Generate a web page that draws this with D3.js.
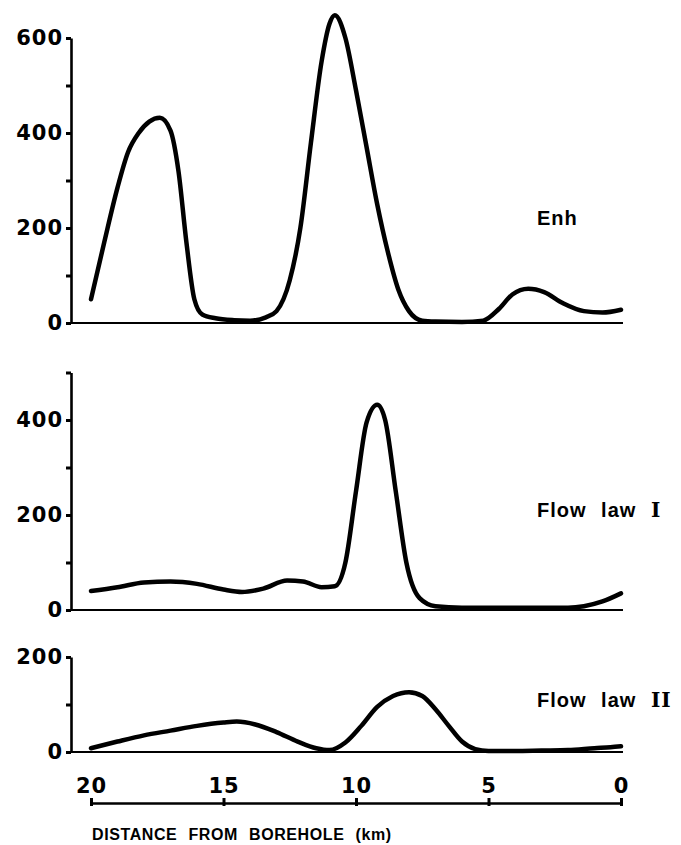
<!DOCTYPE html>
<html>
<head>
<meta charset="utf-8">
<script src="https://cdn.jsdelivr.net/npm/d3@7/dist/d3.min.js"></script>
<style>
  html, body { margin: 0; padding: 0; background: #fff; }
  svg { display: block; }
  .tick text { font-family: "DejaVu Sans", sans-serif; font-weight: bold; font-size: 21px; letter-spacing: 1px; fill: #000; }
</style>
</head>
<body>
<svg id="chart" width="681" height="845"></svg>
<script>
// ---- Data (distance from borehole in km, value) ----
const enhKm    = [20, 19.5, 19.0, 18.6, 18.2, 17.8, 17.4, 17.0, 16.7, 16.4, 16.1, 15.8, 15.3, 14.6, 14.0, 13.4, 13.0, 12.5, 12.1, 11.7, 11.3, 11.0, 10.8, 10.4, 10.0, 9.6, 9.2, 8.8, 8.4, 8.0, 7.5, 7.0, 6.0, 5.2, 4.6, 4.1, 3.5, 2.9, 2.2, 1.4, 0.7, 0];
const enhVal   = [50, 170, 285, 360, 400, 424, 432, 405, 320, 170, 50, 18, 10, 6, 5, 12, 25, 90, 200, 380, 550, 630, 648, 600, 490, 370, 250, 150, 70, 25, 5, 3, 2, 5, 30, 60, 72, 65, 42, 25, 22, 28];

const fl1Km    = [20, 19, 18, 17, 16, 15, 14.3, 13.5, 12.6, 12, 11.3, 10.8, 10.4, 10.0, 9.6, 9.2, 8.9, 8.5, 8.1, 7.6, 7.0, 6.0, 4.0, 2.0, 1.4, 0.7, 0];
const fl1Val   = [40, 48, 58, 60, 55, 43, 38, 45, 62, 60, 48, 50, 100, 250, 395, 432, 400, 250, 100, 25, 8, 5, 5, 5, 8, 18, 35];

const fl2Km    = [20, 19, 18, 17, 16, 15, 14.5, 13.8, 13.0, 12.2, 11.5, 11.0, 10.4, 9.8, 9.2, 8.6, 8.0, 7.5, 7.0, 6.5, 6.0, 5.5, 5.0, 4.0, 3.0, 2.0, 1.0, 0.4, 0];
const fl2Val   = [8, 22, 35, 45, 55, 62, 64, 58, 42, 22, 8, 4, 20, 55, 95, 118, 126, 118, 90, 55, 22, 6, 2, 2, 3, 4, 8, 10, 12];

const panelLabels = ["Enh", "Flow law ", "Flow law "];
const panelNumerals = ["", "I", "II"];
const yTicks1 = [0, 100, 200, 300, 400, 500, 600];
const yTicks2 = [0, 100, 200, 300, 400, 500];
const yTicks3 = [0, 100, 200];
const xTicks  = [20, 15, 10, 5, 0];
const xTitle  = "DISTANCE FROM BOREHOLE (km)";

// ---- Layout ----
const svg = d3.select("#chart");
const x = d3.scaleLinear().domain([20, 0]).range([91, 621]);
const axisX = 71;
const pxPerUnit = 0.475;

const panels = [
  { km: enhKm, val: enhVal, ticks: yTicks1, max: 600, base: 323, label: 0, ly: 225 },
  { km: fl1Km, val: fl1Val, ticks: yTicks2, max: 500, base: 610, label: 1, ly: 517 },
  { km: fl2Km, val: fl2Val, ticks: yTicks3, max: 200, base: 752, label: 2, ly: 707 }
];

panels.forEach(p => {
  const y = d3.scaleLinear().domain([0, p.max]).range([p.base, p.base - p.max * pxPerUnit]);

  // y axis
  const ax = d3.axisLeft(y)
    .tickValues(p.ticks)
    .tickSize(5)
    .tickSizeOuter(0)
    .tickPadding(3)
    .tickFormat(d => d % 200 === 0 ? d : "");
  const g = svg.append("g").attr("transform", `translate(${axisX},0)`).call(ax);
  g.select(".domain").attr("stroke", "#000").attr("stroke-width", 2.6);
  g.selectAll(".tick line").attr("stroke", "#000").attr("stroke-width", 3);

  // baseline
  svg.append("line")
    .attr("x1", axisX).attr("x2", x(0) + 2)
    .attr("y1", y(0)).attr("y2", y(0))
    .attr("stroke", "#000").attr("stroke-width", 2.2);

  // curve
  const data = p.km.map((k, i) => [k, p.val[i]]);
  const line = d3.line()
    .x(d => x(d[0]))
    .y(d => y(d[1]))
    .curve(d3.curveMonotoneX);
  svg.append("path")
    .datum(data)
    .attr("d", line)
    .attr("fill", "none")
    .attr("stroke", "#000")
    .attr("stroke-width", 4.5)
    .attr("stroke-linecap", "round")
    .attr("stroke-linejoin", "round");

  // label
  const t = svg.append("text")
    .attr("x", 537).attr("y", p.ly)
    .attr("font-family", "Liberation Sans, Arial, sans-serif")
    .attr("font-weight", "bold")
    .attr("font-size", 20)
    .attr("letter-spacing", 1)
    .attr("word-spacing", 8)
    .text(panelLabels[p.label]);
  if (panelNumerals[p.label]) {
    t.append("tspan")
      .attr("font-family", "DejaVu Serif, serif")
      .attr("font-weight", "bold")
      .text(panelNumerals[p.label]);
  }
});

// ---- X axis ----
const xAxisY = 803;
const xa = d3.axisBottom(x).tickValues(xTicks).tickSize(0).tickPadding(0).tickFormat(d => d);
const gx = svg.append("g").attr("transform", `translate(0,${xAxisY})`).call(xa);
gx.select(".domain").attr("stroke", "#000").attr("stroke-width", 2.6);
gx.selectAll(".tick text").attr("dy", "-10px").attr("y", 0);
gx.selectAll(".tick").append("line")
  .attr("y1", -5).attr("y2", 3)
  .attr("stroke", "#000").attr("stroke-width", 3);

svg.append("text")
  .attr("x", 92).attr("y", 840)
  .attr("font-family", "Liberation Sans, Arial, sans-serif")
  .attr("font-weight", "bold")
  .attr("font-size", 16)
  .attr("letter-spacing", 0.6)
  .attr("word-spacing", 6)
  .text(xTitle);
</script>
</body>
</html>
